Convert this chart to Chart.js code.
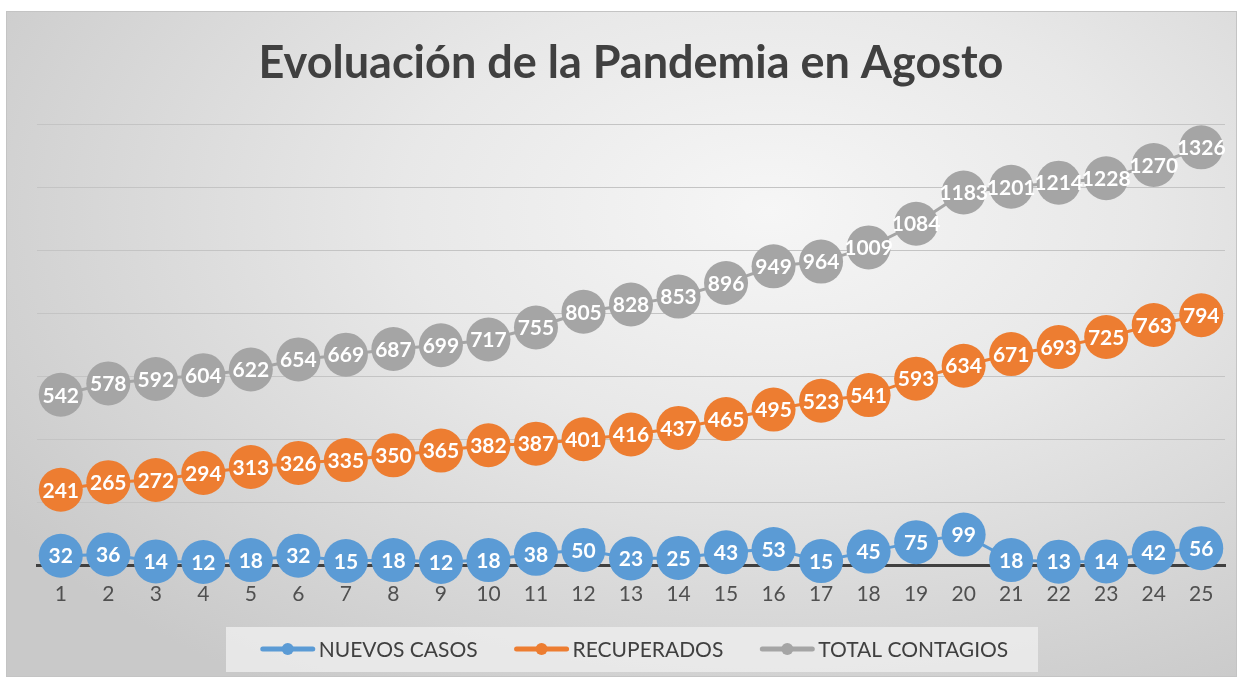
<!DOCTYPE html>
<html>
<head>
<meta charset="utf-8">
<script src="https://cdn.jsdelivr.net/npm/chart.js@4.4.1/dist/chart.umd.min.js"></script>
<style>
  html, body { margin: 0; padding: 0; background: #ffffff; }
  #frame {
    position: absolute; left: 6px; top: 11px;
    width: 1229px; height: 664px;
    border: 1px solid #c4c4c4;
    background: radial-gradient(ellipse 75% 85% at 62% 30%, #f6f6f6 0%, #e8e8e8 40%, #d6d6d6 75%, #c9c9c9 100%);
  }
  canvas { display: block; }
</style>
</head>
<body>
<div id="frame"><canvas id="pandemia" width="1229" height="664"></canvas></div>
<script>
let dias = ["1","2","3","4","5","6","7","8","9","10","11","12","13","14","15","16","17","18","19","20","21","22","23","24","25"];
let nuevosCasos = [32,36,14,12,18,32,15,18,12,18,38,50,23,25,43,53,15,45,75,99,18,13,14,42,56];
let recuperados = [241,265,272,294,313,326,335,350,365,382,387,401,416,437,465,495,523,541,593,634,671,693,725,763,794];
let totalContagios = [542,578,592,604,622,654,669,687,699,717,755,805,828,853,896,949,964,1009,1084,1183,1201,1214,1228,1270,1326];

let serieNombres = ["NUEVOS CASOS", "RECUPERADOS", "TOTAL CONTAGIOS"];
let serieColores = ["#5b9bd5", "#ed7d31", "#a5a5a5"];

// valores en blanco sobre cada punto
let etiquetas = {
    id: "etiquetas",
    afterDatasetsDraw(chart){
        let ctx = chart.ctx;
        ctx.save();
        ctx.fillStyle = "#ffffff";
        ctx.font = "bold 21px Lato";
        ctx.textAlign = "center";
        ctx.textBaseline = "middle";
        chart.data.datasets.forEach(function(ds, i){
            chart.getDatasetMeta(i).data.forEach(function(p, j){
                ctx.fillText(ds.data[j], p.x, p.y + 1);
            });
        });
        ctx.restore();
    }
};

// leyenda abajo con caja gris clara
let leyenda = {
    id: "leyenda",
    afterDraw(chart){
        let ctx = chart.ctx;
        ctx.save();
        ctx.font = "21px Lato";
        let muestraW = 56, hueco = 3, sep = 36;
        let anchos = serieNombres.map(function(n){ return ctx.measureText(n).width; });
        let total = anchos.reduce(function(a, b){ return a + b + muestraW + hueco; }, 0) + sep * (serieNombres.length - 1);
        let cx = 627, cy = 637;
        ctx.fillStyle = "rgba(236,236,236,0.85)";
        ctx.fillRect(219, cy - 22, 812, 45);
        let x = cx - total / 2;
        ctx.textBaseline = "middle";
        serieNombres.forEach(function(n, i){
            ctx.strokeStyle = serieColores[i];
            ctx.fillStyle = serieColores[i];
            ctx.lineWidth = 5;
            ctx.lineCap = "round";
            ctx.beginPath(); ctx.moveTo(x + 3, cy); ctx.lineTo(x + muestraW - 3, cy); ctx.stroke();
            ctx.beginPath(); ctx.arc(x + muestraW / 2, cy, 6, 0, Math.PI * 2); ctx.fill();
            ctx.fillStyle = "#404040";
            ctx.fillText(n, x + muestraW + hueco, cy + 1);
            x += muestraW + hueco + anchos[i] + sep;
        });
        ctx.restore();
    }
};

let datasets = [nuevosCasos, recuperados, totalContagios].map(function(serie, i){
    return {
        label: serieNombres[i],
        data: serie,
        borderColor: serieColores[i],
        backgroundColor: serieColores[i],
        borderWidth: 3,
        pointRadius: 22,
        pointHoverRadius: 22,
        pointBorderWidth: 0,
        tension: 0,
        clip: false,
        order: 3 - i
    };
});

new Chart("pandemia", {
    type: "line",
    data: { labels: dias, datasets: datasets },
    plugins: [etiquetas, leyenda],
    options: {
        responsive: false,
        animation: false,
        layout: { autoPadding: false, padding: { left: 30, right: 11, top: 0, bottom: 61 } },
        plugins: {
            title: {
                display: true,
                text: "Evoluación de la Pandemia en Agosto",
                color: "#404040",
                font: { family: "Lato", size: 45, weight: "bold" },
                padding: { top: 24, bottom: 34 }
            },
            legend: { display: false },
            tooltip: { enabled: false }
        },
        scales: {
            x: {
                offset: true,
                grid: { display: false },
                border: { color: "#404040", width: 3 },
                ticks: { color: "#505050", font: { family: "Lato", size: 21 }, padding: 8 }
            },
            y: {
                min: 0, max: 1400,
                ticks: { display: false, stepSize: 200 },
                grid: { color: "#c4c4c4", lineWidth: 1, drawTicks: false },
                border: { display: false }
            }
        }
    }
});
</script>
</body>
</html>
